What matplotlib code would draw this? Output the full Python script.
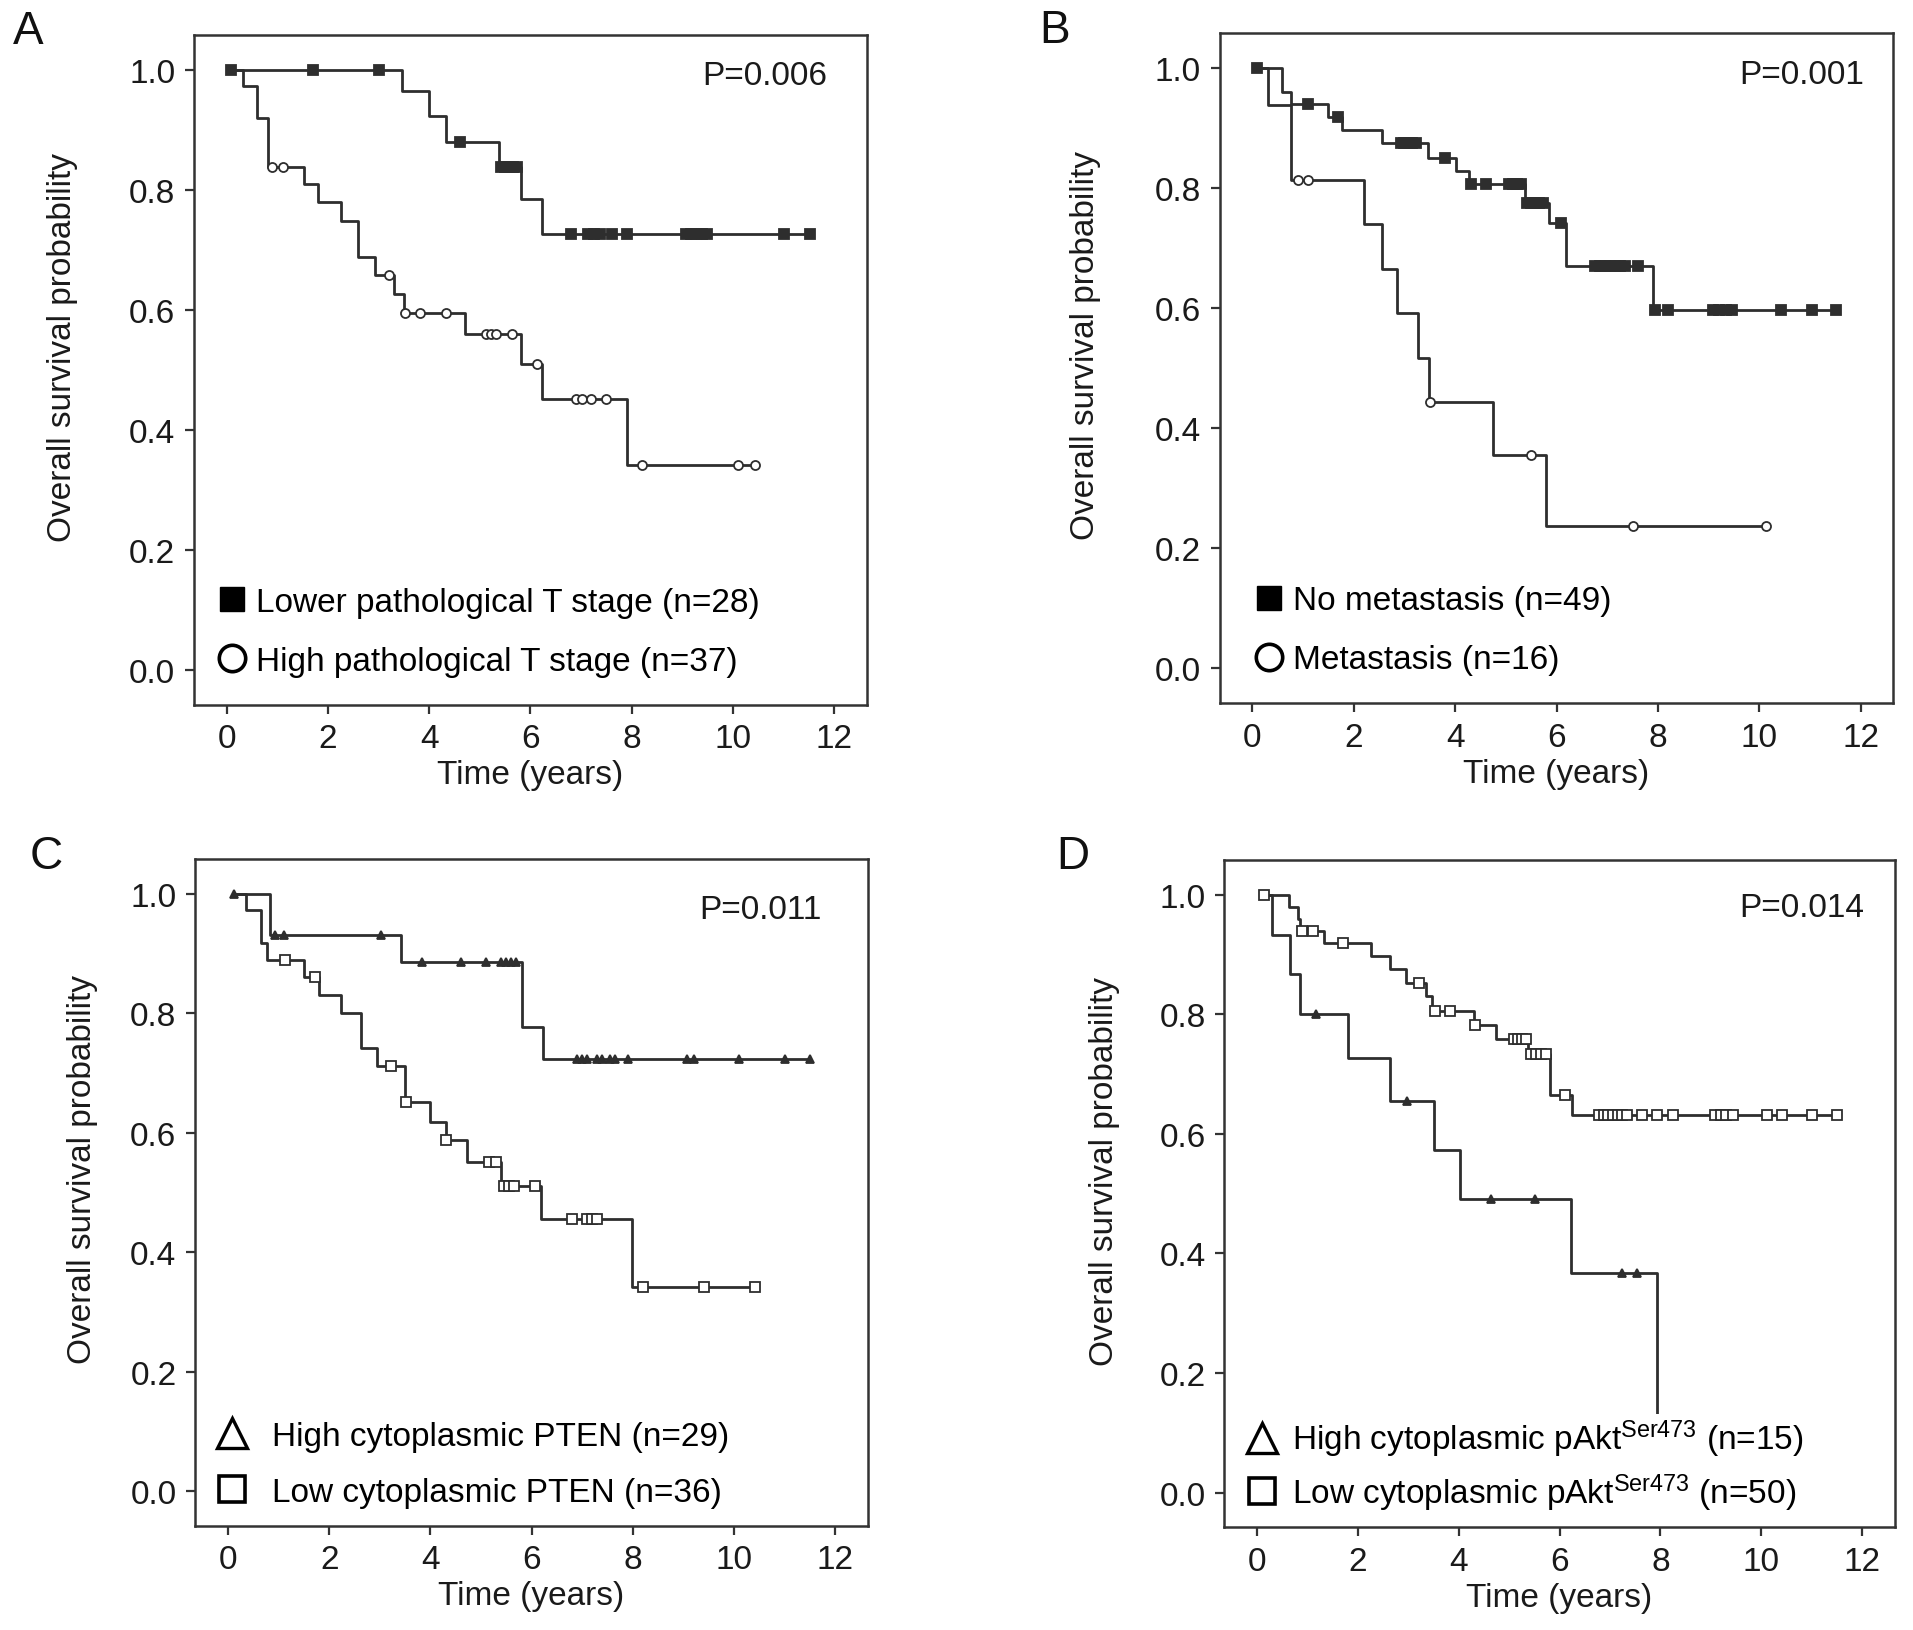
import numpy as np
import matplotlib
matplotlib.use("Agg")
import matplotlib.pyplot as plt
from matplotlib.lines import Line2D

plt.rcParams['font.family'] = ['Liberation Sans', 'DejaVu Sans']
plt.rcParams['mathtext.default'] = 'regular'

# ---------------- data ----------------
# A: pathological T stage
a_low_start = 0.08
a_low_t = [3.47, 4.00, 4.33, 5.38, 5.82, 6.22]
a_low_s = [0.964, 0.923, 0.880, 0.838, 0.784, 0.727]
a_low_cens = [0.08, 1.70, 3.00, 4.61, 5.42, 5.50, 5.58, 5.66, 5.74, 6.81, 7.13,
              7.25, 7.37, 7.62, 7.91, 9.07, 9.18, 9.28, 9.38, 9.49, 11.01, 11.52]
a_high_start = 0.08
a_high_t = [0.31, 0.60, 0.82, 1.52, 1.81, 2.25, 2.60, 2.93, 3.30, 3.51, 4.70,
            5.82, 6.22, 7.91]
a_high_s = [0.973, 0.919, 0.838, 0.810, 0.779, 0.748, 0.688, 0.658, 0.626,
            0.595, 0.559, 0.509, 0.452, 0.341]
a_high_cens = [0.90, 1.10, 3.21, 3.53, 3.81, 4.33, 5.13, 5.22, 5.32, 5.64,
               6.13, 6.90, 7.02, 7.20, 7.50, 8.21, 10.11, 10.43]

# B: metastasis
b_no_start = 0.08
b_no_t = [0.58, 0.77, 1.50, 1.77, 2.56, 3.46, 4.02, 4.28, 5.37, 5.85, 6.19, 7.90]
b_no_s = [0.959, 0.939, 0.918, 0.896, 0.875, 0.850, 0.828, 0.806, 0.775,
          0.742, 0.670, 0.597]
b_no_cens = [0.08, 1.09, 1.69, 2.93, 3.00, 3.08, 3.15, 3.22, 3.80, 4.32, 4.60,
             5.07, 5.15, 5.22, 5.30, 5.42, 5.50, 5.58, 5.66, 5.74, 6.09, 6.75,
             6.85, 6.95, 7.05, 7.15, 7.25, 7.36, 7.60, 7.94, 8.20, 9.08, 9.20,
             9.35, 9.47, 10.43, 11.04, 11.52]
b_met_start = 0.08
b_met_t = [0.30, 0.76, 2.20, 2.56, 2.86, 3.26, 3.48, 4.74, 5.80]
b_met_s = [0.9375, 0.8125, 0.739, 0.665, 0.591, 0.517, 0.443, 0.355, 0.237]
b_met_cens = [0.90, 1.09, 3.50, 5.49, 7.50, 10.13]

# C: cytoplasmic PTEN
c_high_start = 0.12
c_high_t = [0.83, 3.42, 5.80, 6.22]
c_high_s = [0.930, 0.886, 0.777, 0.723]
c_high_cens = [0.12, 0.93, 1.11, 3.02, 3.83, 4.60, 5.10, 5.40, 5.50, 5.60, 5.70,
               6.90, 7.00, 7.10, 7.30, 7.40, 7.55, 7.65, 7.90, 9.08, 9.20,
               10.10, 11.00, 11.50]
c_low_start = 0.12
c_low_t = [0.35, 0.65, 0.77, 1.50, 1.80, 2.23, 2.63, 2.95, 3.50, 4.00, 4.31,
           4.73, 5.40, 6.18, 7.98]
c_low_s = [0.972, 0.917, 0.889, 0.861, 0.831, 0.801, 0.742, 0.712, 0.651,
           0.618, 0.587, 0.551, 0.511, 0.456, 0.342]
c_low_cens = [1.12, 1.71, 3.22, 3.52, 4.31, 5.15, 5.30, 5.45, 5.55, 5.65, 6.06,
              6.80, 7.10, 7.20, 7.30, 8.20, 9.40, 10.41]

# D: cytoplasmic pAkt Ser473
d_high_start = 0.12
d_high_t = [0.30, 0.66, 0.85, 1.81, 2.64, 3.50, 4.03, 6.22, 7.93]
d_high_s = [0.933, 0.867, 0.800, 0.727, 0.655, 0.573, 0.491, 0.368, 0.0]
d_high_cens = [1.17, 2.98, 4.64, 5.52, 7.23, 7.53]
d_low_start = 0.14
d_low_t = [0.63, 0.81, 0.85, 1.33, 2.26, 2.64, 2.95, 3.35, 3.47, 4.31, 4.73,
           5.37, 5.82, 6.24]
d_low_s = [0.980, 0.960, 0.940, 0.920, 0.898, 0.876, 0.853, 0.830, 0.806,
           0.782, 0.758, 0.733, 0.665, 0.632]
d_low_cens = [0.14, 0.90, 1.11, 1.71, 3.22, 3.53, 3.83, 4.33, 5.10, 5.18, 5.26,
              5.34, 5.43, 5.53, 5.63, 5.73, 6.10, 6.79, 6.88, 6.97, 7.06, 7.15,
              7.24, 7.33, 7.63, 7.93, 8.24, 9.08, 9.20, 9.30, 9.44, 10.11,
              10.41, 11.00, 11.50]

p_values = ["P=0.006", "P=0.001", "P=0.011", "P=0.014"]
legend_labels = [
    ["Lower pathological T stage (n=28)", "High pathological T stage (n=37)"],
    ["No metastasis (n=49)", "Metastasis (n=16)"],
    ["High cytoplasmic PTEN (n=29)", "Low cytoplasmic PTEN (n=36)"],
    [r"High cytoplasmic pAkt$^{\mathregular{Ser473}}$ (n=15)",
     r"Low cytoplasmic pAkt$^{\mathregular{Ser473}}$ (n=50)"],
]
panel_letters = ["A", "B", "C", "D"]

# ---------------- style ----------------
FS = 24
LINE_C = '#2e2e2e'
LW = 2.0

def km_curve(ax, start, ev_t, ev_s, cens, marker, ms, filled, mew=1.3):
    ev_t = np.asarray(ev_t)
    ev_s = np.asarray(ev_s)
    end = max(max(cens), ev_t.max())
    xs = np.concatenate([[start], ev_t, [end]])
    ys = np.concatenate([[1.0], ev_s, [ev_s[-1]]])
    ax.step(xs, ys, where='post', color=LINE_C, lw=LW, zorder=2)
    levels = np.concatenate([[1.0], ev_s])
    cy = levels[np.searchsorted(ev_t, cens, side='right')]
    ax.plot(cens, cy, ls='none', marker=marker, ms=ms,
            mfc=LINE_C if filled else 'white', mec=LINE_C, mew=mew, zorder=3)

fig = plt.figure(figsize=(19.13, 16.31), dpi=100)

axes_pos = [[0.1014, 0.5674, 0.3518, 0.4105],
            [0.6375, 0.5685, 0.3523, 0.4107],
            [0.1020, 0.0640, 0.3518, 0.4087],
            [0.6400, 0.0630, 0.3505, 0.4090]]
ylabel_x = [-0.195, -0.199, -0.168, -0.178]
pval_xy = [(11.86, 0.99), (12.07, 0.989), (11.74, 0.973), (12.05, 0.978)]
letter_xy = [(0.0146, 0.9804), (0.551, 0.981), (0.024, 0.4746), (0.561, 0.4746)]

axs = [fig.add_axes(p) for p in axes_pos]

# A
km_curve(axs[0], a_low_start, a_low_t, a_low_s, a_low_cens, 's', 7.5, True)
km_curve(axs[0], a_high_start, a_high_t, a_high_s, a_high_cens, 'o', 6.5, False)
# B
km_curve(axs[1], b_met_start, b_met_t, b_met_s, b_met_cens, 'o', 6.5, False)
km_curve(axs[1], b_no_start, b_no_t, b_no_s, b_no_cens, 's', 7.5, True)
# C
km_curve(axs[2], c_high_start, c_high_t, c_high_s, c_high_cens, '^', 5.5, True)
km_curve(axs[2], c_low_start, c_low_t, c_low_s, c_low_cens, 's', 6.5, False)
# D
km_curve(axs[3], d_high_start, d_high_t, d_high_s, d_high_cens, '^', 5.5, True)
km_curve(axs[3], d_low_start, d_low_t, d_low_s, d_low_cens, 's', 6.5, False)

h_fsq = Line2D([], [], ls='none', marker='s', ms=17, mfc='black', mec='black')
h_oc = Line2D([], [], ls='none', marker='o', ms=19, mfc='white', mec='black', mew=2.6)
h_tri = Line2D([], [], ls='none', marker='^', ms=22, mfc='white', mec='black', mew=2.4)
h_osq = Line2D([], [], ls='none', marker='s', ms=19, mfc='white', mec='black', mew=2.6)
leg_handles = [[h_fsq, h_oc], [h_fsq, h_oc], [h_tri, h_osq], [h_tri, h_osq]]
leg_anchor = [(0.029, 0.036), (0.046, 0.036), (0.021, 0.022), (0.025, 0.017)]
leg_hlen = [0.9, 0.9, 1.17, 1.08]
leg_tpad = [0.27, 0.27, 0.6, 0.36]
leg_space = [0.84, 0.84, 0.75, 0.36]

for i, ax in enumerate(axs):
    ax.set_xlim(-0.65, 12.65)
    ax.set_ylim(-0.058, 1.058)
    ax.set_xticks(np.arange(0, 13, 2))
    ax.set_yticks(np.arange(0, 1.01, 0.2))
    ax.set_yticklabels(["%.1f" % v for v in np.arange(0, 1.01, 0.2)])
    ax.tick_params(direction='out', length=6.5, width=1.6, pad=7,
                   labelsize=FS, colors='#333333', labelcolor='#1a1a1a')
    for sp in ax.spines.values():
        sp.set_linewidth(1.8)
        sp.set_color('#333333')
    ax.set_xlabel("Time (years)", fontsize=FS, color='#1a1a1a')
    ax.xaxis.set_label_coords(0.5, -0.105)
    ax.xaxis.label.set_va('center')
    ax.set_ylabel("Overall survival probability", fontsize=FS, color='#1a1a1a')
    ax.yaxis.set_label_coords(ylabel_x[i], 0.535)
    ax.yaxis.label.set_va('center')
    px, py = pval_xy[i]
    ax.text(px, py, p_values[i], ha='right', va='center', fontsize=FS,
            color='#1a1a1a')
    ax.legend(leg_handles[i], legend_labels[i], loc='lower left',
              bbox_to_anchor=leg_anchor[i], bbox_transform=ax.transAxes,
              frameon=True, framealpha=1, facecolor='white', edgecolor='none',
              fancybox=False, borderpad=0.1, borderaxespad=0,
              handlelength=leg_hlen[i], handletextpad=leg_tpad[i],
              labelspacing=leg_space[i], fontsize=FS)
    lx, ly = letter_xy[i]
    fig.text(lx, ly, panel_letters[i], ha='center', va='center', fontsize=33,
             color='#111111')

plt.savefig("out.png", dpi=100)
